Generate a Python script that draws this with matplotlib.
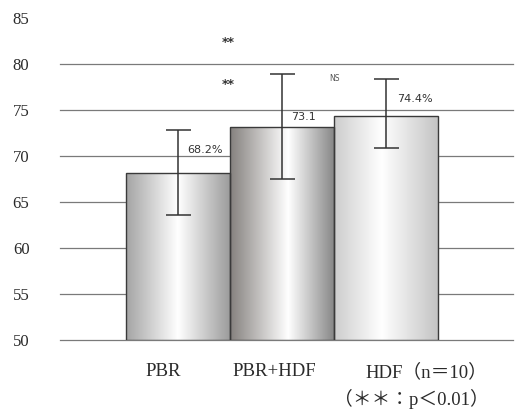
import numpy as np
import matplotlib
matplotlib.use("Agg")
import matplotlib.pyplot as plt
from matplotlib.colors import LinearSegmentedColormap
from matplotlib.transforms import blended_transform_factory

plt.rcParams['font.family'] = ['Liberation Serif', 'Noto Sans CJK JP', 'DejaVu Sans']

categories = ["PBR", "PBR+HDF", "HDF（n＝10）"]
means = [68.2, 73.1, 74.4]
err_low = [63.6, 67.5, 70.9]
err_high = [72.8, 78.9, 78.4]
value_labels = ["68.2%", "73.1", "74.4%"]
yticks = [50, 55, 60, 65, 70, 75, 80, 85]
grid_vals = [50, 55, 60, 65, 70, 75, 80]
note = "（＊＊：p＜0.01）"

# gradient profiles (left edge, highlight, right edge) per bar
edge_dark = ["#a4a4a4", "#85817e", "#cdcdcd"]
edge_dark_r = ["#9c9c9c", "#888888", "#c4c4c4"]
highlight_pos = [0.5, 0.56, 0.46]

fig = plt.figure(figsize=(5.15, 4.12), dpi=100)
ax = fig.add_axes([60/515, 1 - 340/412, 453/515, (340 - 18)/412])
ax.set_ylim(50, 85)
ax.set_xlim(-1.14, 3.22)

for v in grid_vals:
    ax.axhline(v, color="#7a7a7a", lw=0.9, zorder=0, clip_on=False)

x = np.arange(len(means))
bars = ax.bar(x, [m - 50 for m in means], bottom=50, width=1.0,
              facecolor="none", edgecolor="#3a3a3a", lw=1.0, zorder=3)

for i, b in enumerate(bars):
    cmap = LinearSegmentedColormap.from_list(
        f"g{i}", [(0, edge_dark[i]), (highlight_pos[i], "#ffffff"), (1, edge_dark_r[i])])
    grad = np.linspace(0, 1, 256).reshape(1, -1)
    im = ax.imshow(grad, cmap=cmap, aspect="auto",
                   extent=[x[i] - 0.5, x[i] + 0.5, 50, means[i]], zorder=2)
    im.set_clip_path(b)

ax.set_xlim(-1.14, 3.22)
ax.set_ylim(50, 85)

yerr = [np.array(means) - np.array(err_low), np.array(err_high) - np.array(means)]
ax.errorbar(x, means, yerr=yerr, fmt="none", ecolor="#333333", elinewidth=1.1,
            capsize=9, capthick=1.1, zorder=4)

# value labels
ax.text(x[0] + 0.26, 70.65, value_labels[0], fontsize=8, family="DejaVu Sans",
        color="#333333", ha="center", va="center", zorder=5)
ax.text(x[1] + 0.2, 74.2, value_labels[1], fontsize=8, family="DejaVu Sans",
        color="#333333", ha="center", va="center", zorder=5)
ax.text(x[2] + 0.28, 76.2, value_labels[2], fontsize=8, family="DejaVu Sans",
        color="#333333", ha="center", va="center", zorder=5)

# significance marks
ax.text(0.48, 82.3, "**", fontsize=9, ha="center", va="center", color="#333333", family="DejaVu Sans", weight="bold")
ax.text(0.48, 77.8, "**", fontsize=9, ha="center", va="center", color="#333333", family="DejaVu Sans", weight="bold")
ax.text(1.50, 78.4, "NS", fontsize=5.5, ha="center", va="center", color="#555555", family="DejaVu Sans")

ax.set_yticks(yticks)
ax.set_yticklabels([str(t) for t in yticks], fontsize=12, color="#2a2a2a")
ax.tick_params(axis="y", length=0, pad=22)
ax.set_xticks([])
for s in ax.spines.values():
    s.set_visible(False)

# category labels
tr = blended_transform_factory(ax.transData, fig.transFigure)
xlab_pos = [-0.144, 0.918, 2.39]
for xp, lab in zip(xlab_pos, categories):
    ax.text(xp, 1 - 372/412, lab, transform=tr, fontsize=13.5, ha="center", va="center",
            color="#2a2a2a", family=['Liberation Serif', 'Noto Sans CJK JP'])
ax.text(2.245, 1 - 399/412, note, transform=tr, fontsize=13.5, ha="center", va="center",
        color="#2a2a2a", family=['Liberation Serif', 'Noto Sans CJK JP'])

fig.savefig("out.png", dpi=100)
